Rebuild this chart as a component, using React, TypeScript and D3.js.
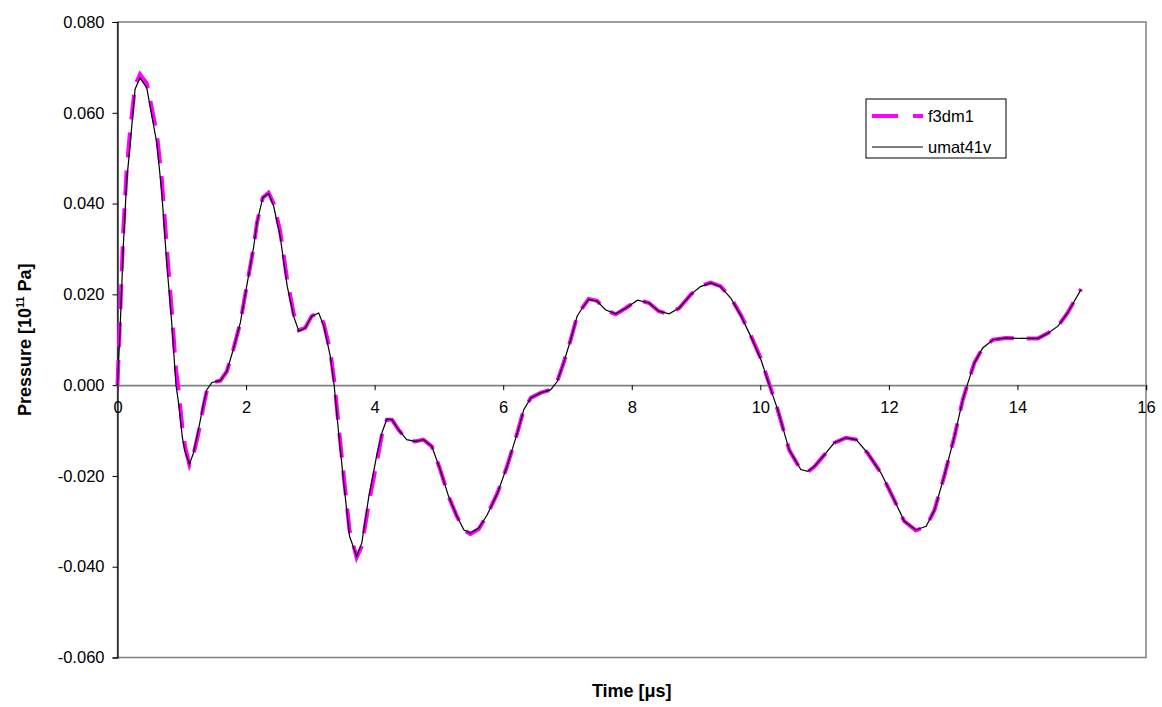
import React, { useRef, useEffect } from "react";
import * as d3 from "d3";

// time samples [µs]
const timeUs = [
  0, 0.04, 0.09, 0.143, 0.195, 0.273, 0.35, 0.455, 0.534, 0.611, 0.689, 0.766,
  0.844, 0.91, 0.95, 1.01, 1.05, 1.12, 1.18, 1.26, 1.34, 1.39, 1.47, 1.6, 1.7,
  1.8, 1.91, 2.01, 2.12, 2.17, 2.26, 2.35, 2.43, 2.53, 2.64, 2.74, 2.82, 2.92,
  3.02, 3.13, 3.21, 3.31, 3.37, 3.44, 3.52, 3.61, 3.72, 3.8, 3.91, 4.04, 4.12,
  4.19, 4.27, 4.37, 4.5, 4.63, 4.76, 4.89, 5.02, 5.15, 5.28, 5.39, 5.49, 5.62,
  5.75, 5.91, 6.06, 6.22, 6.32, 6.43, 6.58, 6.74, 6.84, 6.94, 7.05, 7.15, 7.23,
  7.33, 7.46, 7.59, 7.75, 7.91, 8.09, 8.27, 8.42, 8.58, 8.74, 8.92, 9.07, 9.23,
  9.38, 9.54, 9.7, 9.85, 10.01, 10.14, 10.27, 10.45, 10.63, 10.74, 10.84, 11.0,
  11.15, 11.33, 11.49, 11.67, 11.88, 12.08, 12.24, 12.42, 12.58, 12.71, 12.86,
  13.02, 13.15, 13.23, 13.33, 13.46, 13.62, 13.82, 14.06, 14.32, 14.47, 14.63,
  14.78, 14.99,
];

// umat41v pressure [1e11 Pa]
const umat41v = [
  0, 0.0122, 0.0306, 0.045, 0.0527, 0.0652, 0.0677, 0.0655, 0.0593, 0.0534,
  0.0424, 0.0269, 0.0137, 0.0, -0.0039, -0.0116, -0.0146, -0.0174, -0.015,
  -0.0098, -0.0039, -0.001, 0.0006, 0.001, 0.003, 0.0078, 0.0137, 0.0218,
  0.0306, 0.0358, 0.0413, 0.0422, 0.0394, 0.0328, 0.0218, 0.0152, 0.0119,
  0.0126, 0.0152, 0.0159, 0.013, 0.0064, 0.0, -0.0105, -0.0216, -0.0333,
  -0.0377, -0.0348, -0.0245, -0.015, -0.0102, -0.0075, -0.0076, -0.0098,
  -0.012, -0.0124, -0.012, -0.0135, -0.0186, -0.0245, -0.0289, -0.0319,
  -0.0326, -0.0315, -0.0286, -0.0238, -0.0179, -0.0105, -0.0054, -0.0028,
  -0.0017, -0.001, 0.0008, 0.0049, 0.01, 0.0152, 0.017, 0.0189, 0.0185, 0.0166,
  0.0157, 0.017, 0.0187, 0.0181, 0.0163, 0.0157, 0.017, 0.02, 0.0217, 0.0225,
  0.0217, 0.0192, 0.0152, 0.0108, 0.0056, 0.0, -0.0054, -0.0143, -0.0186,
  -0.019, -0.0179, -0.0153, -0.0127, -0.0116, -0.012, -0.015, -0.0194,
  -0.0252, -0.03, -0.0319, -0.0311, -0.0275, -0.0201, -0.0113, -0.0032, 0.0005,
  0.0049, 0.0082, 0.01, 0.0104, 0.0103, 0.0103, 0.0114, 0.013, 0.0159, 0.0211,
];

// f3dm1 pressure [1e11 Pa]
const f3dm1 = [
  0, 0.015, 0.034, 0.0475, 0.056, 0.066, 0.0685, 0.0665, 0.061, 0.0555,
  0.0455, 0.0305, 0.0165, 0.0035, -0.001, -0.0095, -0.0135, -0.0176, -0.0155,
  -0.0105, -0.0045, -0.0012, 0.0006, 0.001, 0.003, 0.0078, 0.0137, 0.0218,
  0.0306, 0.0358, 0.0413, 0.0424, 0.04, 0.034, 0.0232, 0.0158, 0.0121, 0.0126,
  0.0152, 0.016, 0.0135, 0.0075, 0.0012, -0.009, -0.02, -0.032, -0.038,
  -0.0355, -0.026, -0.0165, -0.0105, -0.0076, -0.0076, -0.0098, -0.012,
  -0.0124, -0.012, -0.0135, -0.0186, -0.0245, -0.0289, -0.0319, -0.0328,
  -0.0317, -0.0286, -0.0238, -0.0179, -0.0105, -0.0054, -0.0028, -0.0017,
  -0.001, 0.0008, 0.0049, 0.01, 0.0152, 0.017, 0.019, 0.0186, 0.0166, 0.0156,
  0.017, 0.0188, 0.0181, 0.0163, 0.0156, 0.017, 0.02, 0.0218, 0.0226, 0.0218,
  0.0193, 0.0154, 0.011, 0.0058, 0.0002, -0.0054, -0.0143, -0.0187, -0.0191,
  -0.018, -0.0153, -0.0127, -0.0116, -0.012, -0.015, -0.0194, -0.0252, -0.03,
  -0.032, -0.0312, -0.0275, -0.0201, -0.0113, -0.0032, 0.0005, 0.0049, 0.0082,
  0.01, 0.0104, 0.0103, 0.0103, 0.0114, 0.013, 0.0159, 0.0212,
];

const xTicks = [0, 2, 4, 6, 8, 10, 12, 14, 16];
const yTicks = [0.08, 0.06, 0.04, 0.02, 0, -0.02, -0.04, -0.06];
const legendNames = ["f3dm1", "umat41v"];

const FONT = "'Liberation Sans', Arial, sans-serif";

// Excel style: hyphen minus, three decimals
const fmtY = (d: number) => {
  const s = Math.abs(d).toFixed(3);
  return d < -1e-9 ? "-" + s : s;
};

const App = () => {
  const svgRef = useRef<SVGSVGElement>(null);

  useEffect(() => {
    const W = 1162;
    const H = 707;
    const left = 117.5;
    const right = 1146;
    const top = 22;
    const bottom = 657.5;

    const svg = d3.select(svgRef.current).attr("width", W).attr("height", H);
    svg.selectAll("*").remove();

    svg.append("rect").attr("width", W).attr("height", H).attr("fill", "white");

    const x = d3.scaleLinear().domain([0, 16]).range([left, right]);
    const y = d3.scaleLinear().domain([-0.06, 0.08]).range([bottom, top]);

    // plot area border (gray)
    svg
      .append("rect")
      .attr("x", left)
      .attr("y", top)
      .attr("width", right - left)
      .attr("height", bottom - top)
      .attr("fill", "none")
      .attr("stroke", "#808080")
      .attr("stroke-width", 1.5);

    // y axis
    const yAxis = d3
      .axisLeft(y)
      .tickValues(yTicks)
      .tickSize(5)
      .tickPadding(8)
      .tickFormat((d) => fmtY(d as number));
    const gy = svg.append("g").attr("transform", `translate(${left},0)`).call(yAxis);
    gy.select(".domain").attr("stroke", "#000").attr("stroke-width", 1.2);
    gy.selectAll(".tick line").attr("stroke", "#000");
    gy.selectAll(".tick text")
      .attr("font-family", FONT)
      .attr("font-size", 16.5)
      .attr("fill", "#000");

    // x axis along zero line
    const xAxis = d3.axisBottom(x).tickValues(xTicks).tickSize(5).tickPadding(11);
    const gx = svg.append("g").attr("transform", `translate(0,${y(0)})`).call(xAxis);
    gx.select(".domain").attr("stroke", "#7f7f7f").attr("stroke-width", 1.8);
    gx.selectAll(".tick line").attr("stroke", "#000");
    gx.selectAll(".tick text")
      .attr("font-family", FONT)
      .attr("font-size", 16.5)
      .attr("fill", "#000");

    const line = d3
      .line<number>()
      .x((_, i) => x(timeUs[i]))
      .y((d) => y(d));

    svg
      .append("path")
      .datum(f3dm1)
      .attr("d", line)
      .attr("fill", "none")
      .attr("stroke", "#ff00ff")
      .attr("stroke-width", 4)
      .attr("stroke-dasharray", "25,13");

    svg
      .append("path")
      .datum(umat41v)
      .attr("d", line)
      .attr("fill", "none")
      .attr("stroke", "#000")
      .attr("stroke-width", 1.2);

    // axis titles
    svg
      .append("text")
      .attr("transform", `translate(31,${(top + bottom) / 2}) rotate(-90)`)
      .attr("text-anchor", "middle")
      .attr("font-family", FONT)
      .attr("font-size", 18)
      .attr("font-weight", "bold")
      .call((t) => {
        t.append("tspan").text("Pressure [10");
        t.append("tspan").attr("font-size", 11).attr("dy", -7).text("11");
        t.append("tspan").attr("dy", 7).text(" Pa]");
      });

    svg
      .append("text")
      .attr("x", (left + right) / 2)
      .attr("y", 697)
      .attr("text-anchor", "middle")
      .attr("font-family", FONT)
      .attr("font-size", 18)
      .attr("font-weight", "bold")
      .text("Time [\u03bcs]");

    // legend
    const legend = svg.append("g").attr("transform", "translate(866,99)");
    legend
      .append("rect")
      .attr("width", 140)
      .attr("height", 59)
      .attr("fill", "white")
      .attr("stroke", "#000")
      .attr("stroke-width", 1);

    legend
      .append("line")
      .attr("x1", 6)
      .attr("x2", 57)
      .attr("y1", 17)
      .attr("y2", 17)
      .attr("stroke", "#ff00ff")
      .attr("stroke-width", 4)
      .attr("stroke-dasharray", "26,15");
    legend
      .append("line")
      .attr("x1", 6)
      .attr("x2", 57)
      .attr("y1", 48)
      .attr("y2", 48)
      .attr("stroke", "#000")
      .attr("stroke-width", 1);

    legendNames.forEach((name, i) => {
      legend
        .append("text")
        .attr("x", 62)
        .attr("y", 23 + i * 31)
        .attr("font-family", FONT)
        .attr("font-size", 16.5)
        .text(name);
    });
  }, []);

  return (
    <svg
      ref={svgRef}
      style={{ position: "absolute", left: 0, top: 0, display: "block" }}
    ></svg>
  );
};

export default App;
